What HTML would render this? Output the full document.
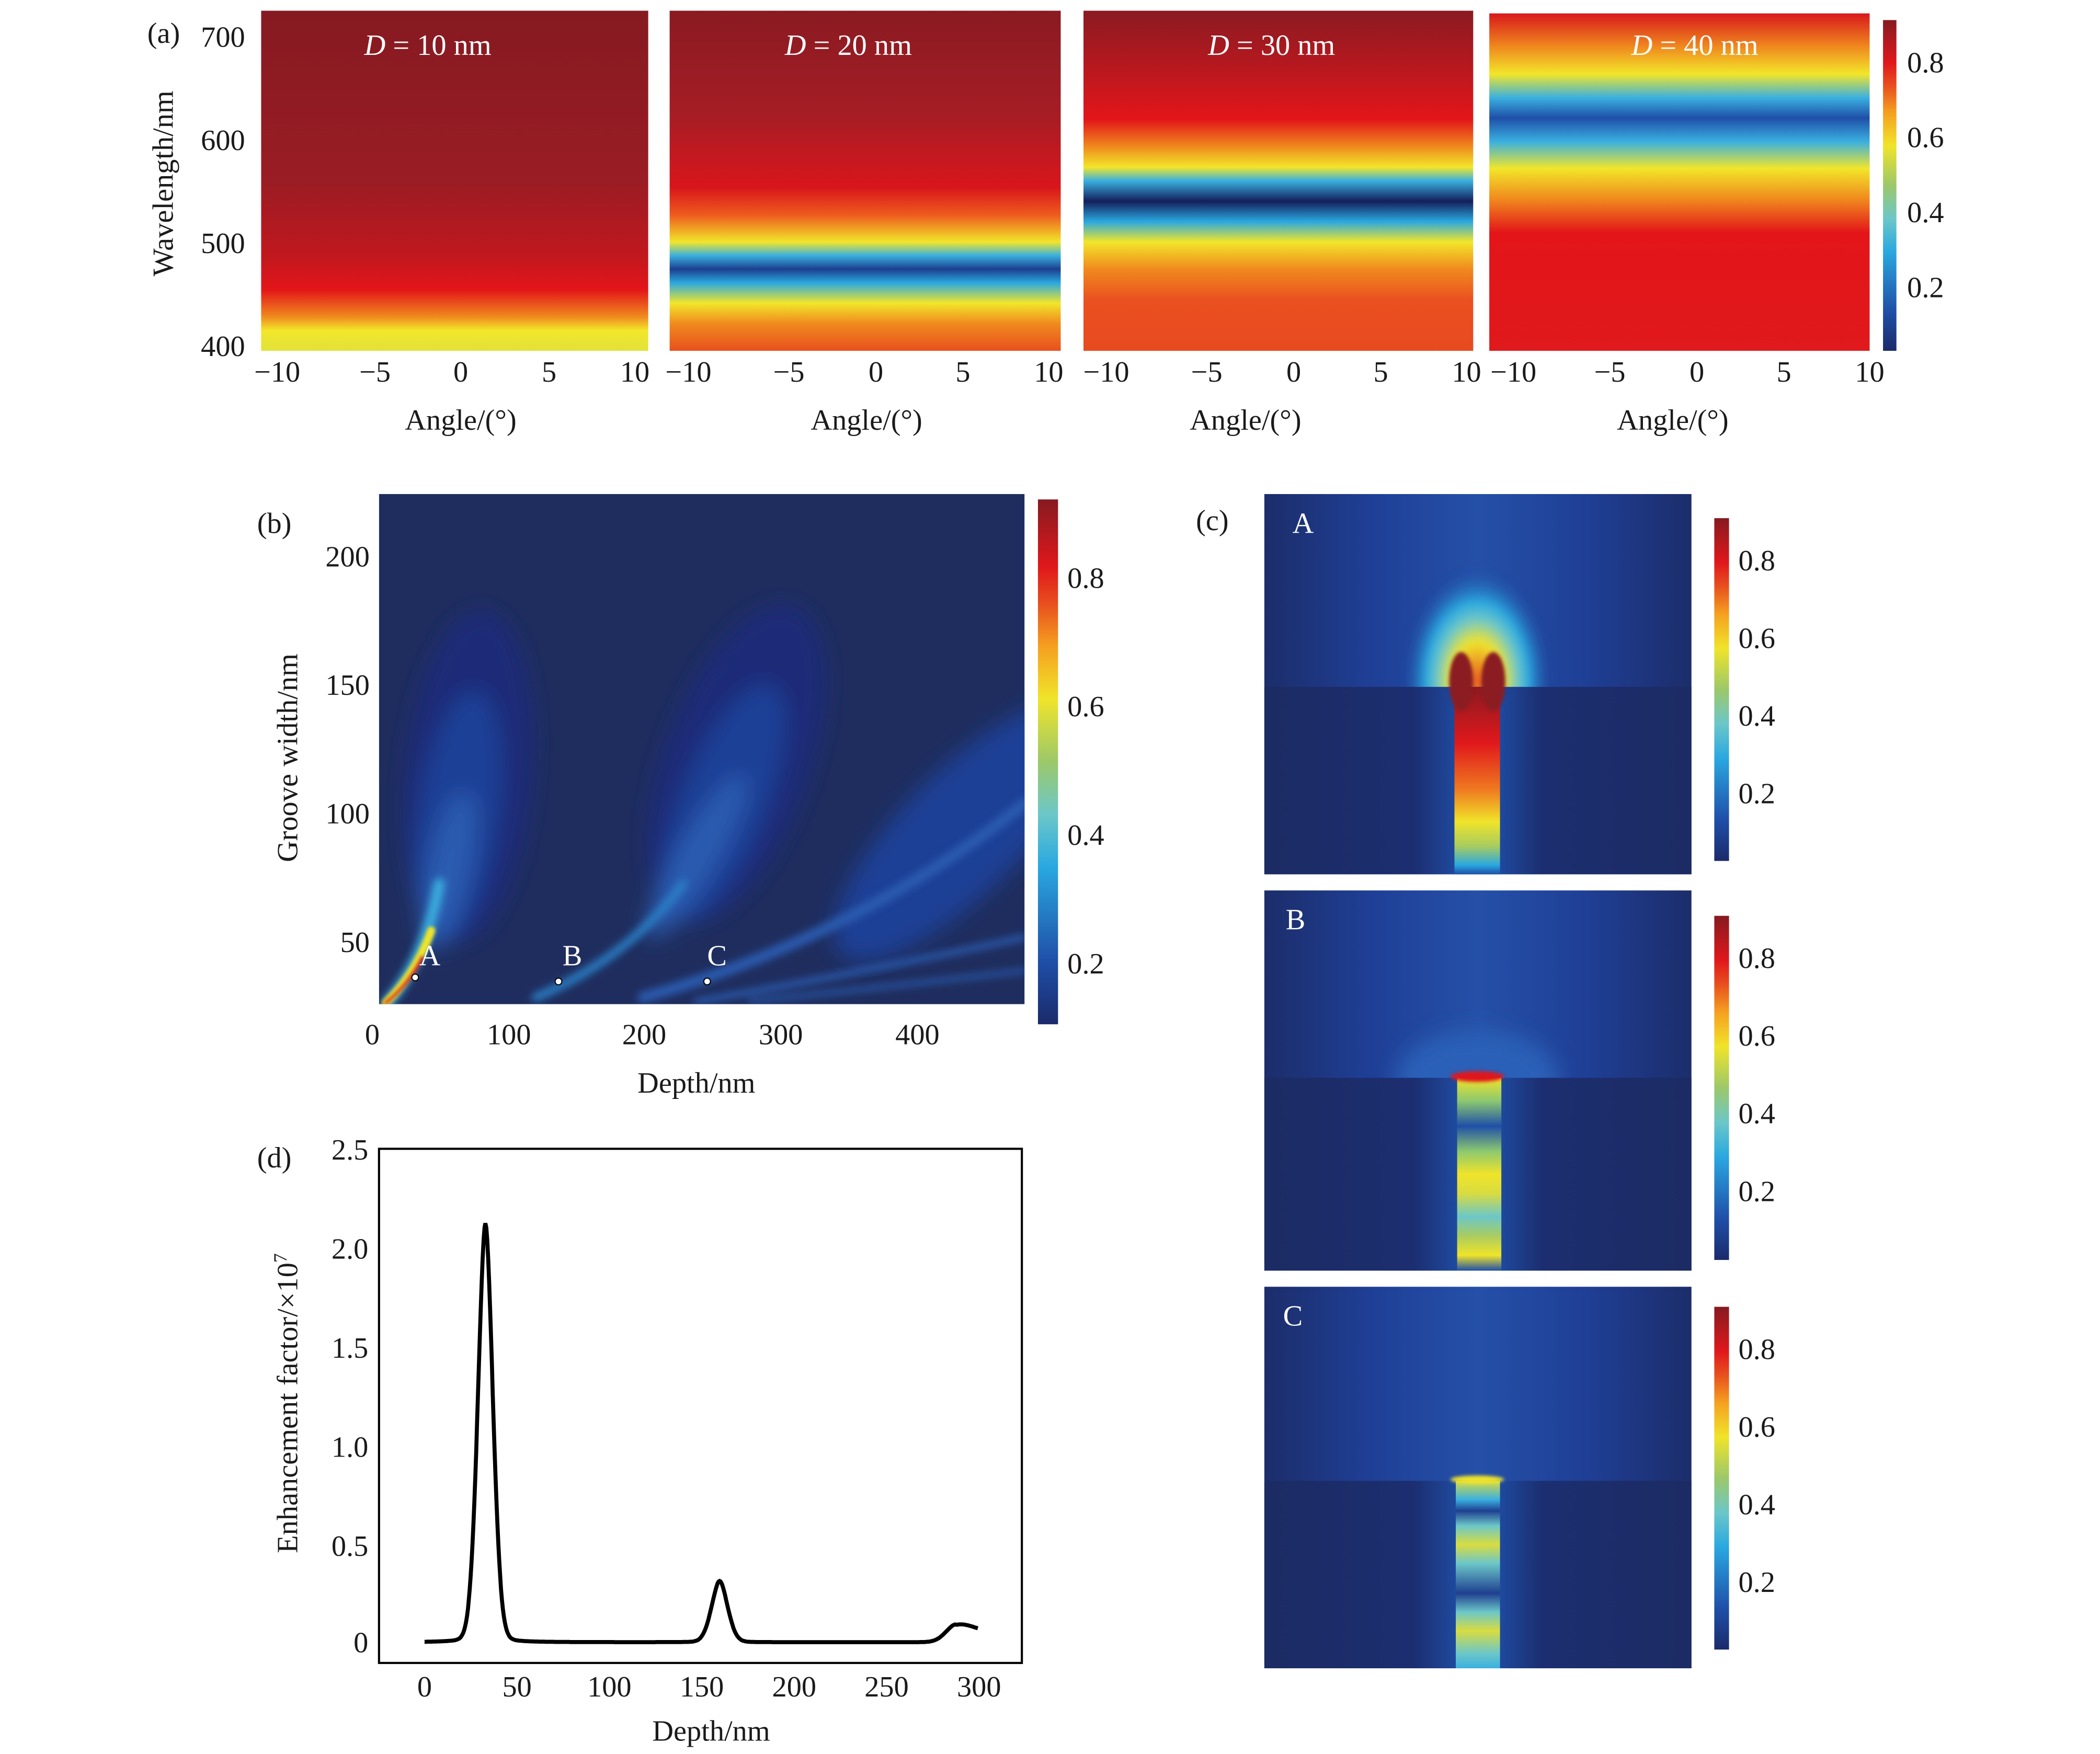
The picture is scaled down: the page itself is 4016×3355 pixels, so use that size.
<!DOCTYPE html>
<html><head><meta charset="utf-8"><style>html,body{margin:0;padding:0;background:#fff}svg{display:block}text{font-family:"Liberation Serif",serif;fill:#1a1a1a}</style></head>
<body>
<svg xmlns="http://www.w3.org/2000/svg" width="4016" height="3355" viewBox="0 0 1568 1310" preserveAspectRatio="none">
<defs>
<linearGradient id="jet" x1="0" y1="1" x2="0" y2="0">
<stop offset="0" stop-color="#1b2a6b"/><stop offset="0.12" stop-color="#1f4fa8"/><stop offset="0.3" stop-color="#2aa8e0"/><stop offset="0.4" stop-color="#6cc7c8"/><stop offset="0.5" stop-color="#9cc86a"/><stop offset="0.62" stop-color="#f0e42a"/><stop offset="0.72" stop-color="#f5a020"/><stop offset="0.8" stop-color="#e8501e"/><stop offset="0.87" stop-color="#e0181c"/><stop offset="1" stop-color="#861a20"/>
</linearGradient>
<linearGradient id="p1" x1="0" y1="0" x2="0" y2="1">
<stop offset="0" stop-color="#861a21"/><stop offset="0.5" stop-color="#9a1c24"/><stop offset="0.72" stop-color="#c0181e"/><stop offset="0.82" stop-color="#e31519"/><stop offset="0.9" stop-color="#f08a1e"/><stop offset="0.94" stop-color="#f2e62a"/><stop offset="1" stop-color="#e2e23a"/>
</linearGradient>
<linearGradient id="p2" x1="0" y1="0" x2="0" y2="1">
<stop offset="0" stop-color="#8a1a21"/><stop offset="0.3" stop-color="#a51d25"/><stop offset="0.52" stop-color="#d8161b"/><stop offset="0.6" stop-color="#ee5a1e"/><stop offset="0.68" stop-color="#f2e62a"/><stop offset="0.72" stop-color="#3ab0e0"/><stop offset="0.76" stop-color="#1c3f8e"/><stop offset="0.8" stop-color="#2aa8e0"/><stop offset="0.86" stop-color="#f2e62a"/><stop offset="0.92" stop-color="#f08a1e"/><stop offset="1" stop-color="#e8501e"/>
</linearGradient>
<linearGradient id="p3" x1="0" y1="0" x2="0" y2="1">
<stop offset="0" stop-color="#8a1a21"/><stop offset="0.2" stop-color="#c0181e"/><stop offset="0.32" stop-color="#e31519"/><stop offset="0.4" stop-color="#f08a1e"/><stop offset="0.46" stop-color="#f2e62a"/><stop offset="0.5" stop-color="#3ab0e0"/><stop offset="0.56" stop-color="#141f5a"/><stop offset="0.62" stop-color="#2aa8e0"/><stop offset="0.68" stop-color="#f2e62a"/><stop offset="0.76" stop-color="#f08a1e"/><stop offset="0.85" stop-color="#ea5020"/><stop offset="1" stop-color="#e84a20"/>
</linearGradient>
<linearGradient id="p4" x1="0" y1="0" x2="0" y2="1">
<stop offset="0" stop-color="#d8181c"/><stop offset="0.1" stop-color="#f08a1e"/><stop offset="0.18" stop-color="#f2e62a"/><stop offset="0.25" stop-color="#3ab0e0"/><stop offset="0.31" stop-color="#1f4fa8"/><stop offset="0.38" stop-color="#3ab0e0"/><stop offset="0.46" stop-color="#f2e62a"/><stop offset="0.55" stop-color="#f08a1e"/><stop offset="0.65" stop-color="#e31519"/><stop offset="1" stop-color="#e0191c"/>
</linearGradient>
<filter id="bl" x="-50%" y="-50%" width="200%" height="200%"><feGaussianBlur stdDeviation="8"/></filter>
<filter id="bl2" x="-50%" y="-50%" width="200%" height="200%"><feGaussianBlur stdDeviation="3"/></filter>
<filter id="bl1" x="-50%" y="-50%" width="200%" height="200%"><feGaussianBlur stdDeviation="1.2"/></filter>
<radialGradient id="glowA" cx="0.5" cy="0.5" r="0.5">
<stop offset="0" stop-color="#e8501e"/><stop offset="0.35" stop-color="#f0e42a"/><stop offset="0.55" stop-color="#6cc7c8"/><stop offset="0.7" stop-color="#2aa8e0"/><stop offset="1" stop-color="#1f4fa8" stop-opacity="0"/>
</radialGradient>
<linearGradient id="grA" x1="0" y1="0" x2="0" y2="1">
<stop offset="0" stop-color="#8a1a20"/><stop offset="0.3" stop-color="#e0181c"/><stop offset="0.55" stop-color="#ef7a20"/><stop offset="0.72" stop-color="#f0e42a"/><stop offset="0.85" stop-color="#a8cc60"/><stop offset="0.95" stop-color="#2aa8e0"/><stop offset="1" stop-color="#1f4fa8"/>
</linearGradient>
<linearGradient id="grB" x1="0" y1="0" x2="0" y2="1">
<stop offset="0" stop-color="#f0e42a"/><stop offset="0.12" stop-color="#8cc870"/><stop offset="0.25" stop-color="#1f4fa8"/><stop offset="0.38" stop-color="#8cc870"/><stop offset="0.5" stop-color="#f0e42a"/><stop offset="0.6" stop-color="#d8dc40"/><stop offset="0.72" stop-color="#6cc7c8"/><stop offset="0.82" stop-color="#aacc60"/><stop offset="0.92" stop-color="#f0e42a"/><stop offset="1" stop-color="#1f4fa8"/>
</linearGradient>
<linearGradient id="grC" x1="0" y1="0" x2="0" y2="1">
<stop offset="0" stop-color="#d8dc40"/><stop offset="0.1" stop-color="#3ab0e0"/><stop offset="0.16" stop-color="#1f3f90"/><stop offset="0.24" stop-color="#6cc7c8"/><stop offset="0.34" stop-color="#d8dc40"/><stop offset="0.44" stop-color="#6cc7c8"/><stop offset="0.6" stop-color="#1f3f90"/><stop offset="0.7" stop-color="#6cc7c8"/><stop offset="0.8" stop-color="#d8dc40"/><stop offset="0.92" stop-color="#6cc7c8"/><stop offset="1" stop-color="#3ab0e0"/>
</linearGradient>
<linearGradient id="side" x1="0" y1="0" x2="1" y2="0">
<stop offset="0" stop-color="#1c2b63"/><stop offset="0.35" stop-color="#1c2e70"/><stop offset="0.47" stop-color="#1f4fa8"/><stop offset="0.53" stop-color="#1f4fa8"/><stop offset="0.65" stop-color="#1c2e70"/><stop offset="1" stop-color="#1c2b63"/>
</linearGradient>
<linearGradient id="topbg" x1="0" y1="0" x2="1" y2="0">
<stop offset="0" stop-color="#1c2d6a"/><stop offset="0.25" stop-color="#1f3f96"/><stop offset="0.5" stop-color="#2550a8"/><stop offset="0.75" stop-color="#1f3f96"/><stop offset="1" stop-color="#1c2d6a"/>
</linearGradient>
</defs>

<!-- (a) -->
<rect x="195" y="8" width="289" height="254" fill="url(#p1)"/>
<rect x="500" y="8" width="292" height="254" fill="url(#p2)"/>
<rect x="809" y="8" width="291" height="254" fill="url(#p3)"/>
<rect x="1112" y="10" width="284" height="252" fill="url(#p4)"/>
<rect x="1406" y="15" width="10" height="247" fill="url(#jet)"/>
<g font-size="22">
<text x="272" y="41" style="fill:#fff"><tspan font-style="italic">D</tspan> = 10 nm</text>
<text x="586" y="41" style="fill:#fff"><tspan font-style="italic">D</tspan> = 20 nm</text>
<text x="902" y="41" style="fill:#fff"><tspan font-style="italic">D</tspan> = 30 nm</text>
<text x="1218" y="41" style="fill:#fff"><tspan font-style="italic">D</tspan> = 40 nm</text>
</g>
<g font-size="22">
<text x="110" y="32">(a)</text>
<text x="150" y="35">700</text><text x="150" y="112">600</text><text x="150" y="189">500</text><text x="150" y="266">400</text>
<text x="137" y="145" transform="rotate(-90 129 145)" text-anchor="middle">Wavelength/nm</text>
<g text-anchor="middle">
<text x="207" y="285">−10</text><text x="280" y="285">−5</text><text x="344" y="285">0</text><text x="410" y="285">5</text><text x="474" y="285">10</text>
<text x="514" y="285">−10</text><text x="589" y="285">−5</text><text x="654" y="285">0</text><text x="719" y="285">5</text><text x="783" y="285">10</text>
<text x="826" y="285">−10</text><text x="901" y="285">−5</text><text x="966" y="285">0</text><text x="1031" y="285">5</text><text x="1095" y="285">10</text>
<text x="1130" y="285">−10</text><text x="1202" y="285">−5</text><text x="1267" y="285">0</text><text x="1332" y="285">5</text><text x="1396" y="285">10</text>
<text x="344" y="321">Angle/(°)</text><text x="647" y="321">Angle/(°)</text><text x="930" y="321">Angle/(°)</text><text x="1249" y="321">Angle/(°)</text>
</g>
<text x="1424" y="54">0.8</text><text x="1424" y="110">0.6</text><text x="1424" y="166">0.4</text><text x="1424" y="222">0.2</text>
</g>

<!-- (b) -->
<svg x="283" y="369" width="482" height="381" viewBox="283 369 482 381">
<rect x="283" y="369" width="482" height="381" fill="#1f2d5e"/>
<g filter="url(#bl)">
<ellipse cx="350" cy="580" rx="48" ry="125" fill="#1c2a78" transform="rotate(5 350 580)"/>
<ellipse cx="342" cy="610" rx="30" ry="95" fill="#1f3f96" transform="rotate(8 342 610)"/>
<ellipse cx="335" cy="650" rx="16" ry="60" fill="#2a5cb0" transform="rotate(12 335 650)"/>
<ellipse cx="550" cy="570" rx="55" ry="125" fill="#1c2a78" transform="rotate(20 550 570)"/>
<ellipse cx="540" cy="600" rx="32" ry="95" fill="#1f3f96" transform="rotate(22 540 600)"/>
<ellipse cx="520" cy="640" rx="15" ry="70" fill="#2a5cb0" transform="rotate(30 520 640)"/>
<ellipse cx="720" cy="620" rx="45" ry="130" fill="#1f3f96" transform="rotate(45 720 620)"/>
</g>
<g filter="url(#bl2)" fill="none" stroke-linecap="round">
<path d="M290 748 Q318 715 328 660" stroke="#3ab0e0" stroke-width="8"/>
<path d="M400 745 Q470 715 510 660" stroke="#2a80c8" stroke-width="6"/>
<path d="M480 745 Q640 700 765 600" stroke="#2a5cb0" stroke-width="8"/>
<path d="M520 748 Q650 725 765 700" stroke="#2a60b8" stroke-width="4"/>
<path d="M560 748 Q680 735 765 725" stroke="#2a60b8" stroke-width="3"/>
</g>
<g filter="url(#bl1)" fill="none" stroke-linecap="round">
<path d="M288 749 Q310 728 322 695" stroke="#f0e42a" stroke-width="6"/>
<path d="M288 749 Q305 735 315 715" stroke="#e0181c" stroke-width="3"/>
</g>
</svg>
<rect x="775" y="373" width="15" height="392" fill="url(#jet)"/>
<circle cx="310" cy="730" r="2.5" fill="#fff" stroke="#000" stroke-width="0.8"/>
<circle cx="417" cy="733" r="2.5" fill="#fff" stroke="#000" stroke-width="0.8"/>
<circle cx="528" cy="733" r="2.5" fill="#fff" stroke="#000" stroke-width="0.8"/>
<g font-size="22">
<text x="313" y="721" style="fill:#fff">A</text><text x="420" y="721" style="fill:#fff">B</text><text x="528" y="721" style="fill:#fff">C</text>
<text x="192" y="398">(b)</text>
<g text-anchor="end"><text x="276" y="423">200</text><text x="276" y="519">150</text><text x="276" y="615">100</text><text x="276" y="711">50</text></g>
<g text-anchor="middle"><text x="278" y="780">0</text><text x="380" y="780">100</text><text x="481" y="780">200</text><text x="583" y="780">300</text><text x="685" y="780">400</text>
<text x="520" y="816">Depth/nm</text>
<text x="222" y="566" transform="rotate(-90 222 566)">Groove width/nm</text></g>
<text x="797" y="439">0.8</text><text x="797" y="535">0.6</text><text x="797" y="631">0.4</text><text x="797" y="727">0.2</text>
</g>

<!-- (c) -->
<g>
<svg x="944" y="369" width="319" height="284" viewBox="0 0 319 284">
<rect width="319" height="284" fill="url(#topbg)"/>
<ellipse cx="159" cy="140" rx="55" ry="85" fill="url(#glowA)" filter="url(#bl2)"/>
<rect x="0" y="144" width="319" height="140" fill="url(#side)"/>
<rect x="142" y="144" width="34" height="140" fill="url(#grA)"/>
<ellipse cx="147" cy="140" rx="9" ry="22" fill="#8a1a20" filter="url(#bl1)"/>
<ellipse cx="171" cy="140" rx="9" ry="22" fill="#8a1a20" filter="url(#bl1)"/>
</svg>
<svg x="944" y="665" width="319" height="284" viewBox="0 0 319 284">
<rect width="319" height="284" fill="url(#topbg)"/>
<ellipse cx="159" cy="140" rx="60" ry="35" fill="#2a60b8" filter="url(#bl)"/>
<rect x="0" y="140" width="319" height="144" fill="url(#side)"/>
<rect x="144" y="140" width="33" height="144" fill="url(#grB)"/>
<ellipse cx="159" cy="139" rx="20" ry="4" fill="#e0181c" filter="url(#bl1)"/>
</svg>
<svg x="944" y="961" width="319" height="285" viewBox="0 0 319 285">
<rect width="319" height="285" fill="url(#topbg)"/>
<rect x="0" y="145" width="319" height="140" fill="url(#side)"/>
<rect x="143" y="145" width="33" height="140" fill="url(#grC)"/>
<ellipse cx="159" cy="144" rx="20" ry="3" fill="#f0e42a" filter="url(#bl1)"/>
</svg>
<rect x="1280" y="387" width="11" height="256" fill="url(#jet)"/>
<rect x="1280" y="684" width="11" height="257" fill="url(#jet)"/>
<rect x="1280" y="976" width="11" height="256" fill="url(#jet)"/>
<g font-size="22">
<text x="893" y="396">(c)</text>
<text x="965" y="398" style="fill:#fff">A</text><text x="960" y="694" style="fill:#fff">B</text><text x="958" y="990" style="fill:#fff">C</text>
<text x="1298" y="426">0.8</text><text x="1298" y="484">0.6</text><text x="1298" y="542">0.4</text><text x="1298" y="600">0.2</text>
<text x="1298" y="723">0.8</text><text x="1298" y="781">0.6</text><text x="1298" y="839">0.4</text><text x="1298" y="897">0.2</text>
<text x="1298" y="1015">0.8</text><text x="1298" y="1073">0.6</text><text x="1298" y="1131">0.4</text><text x="1298" y="1189">0.2</text>
</g>
</g>

<!-- (d) -->
<rect x="283" y="858" width="480" height="384" fill="none" stroke="#000" stroke-width="1.6"/>
<g id="dt" stroke="#000" stroke-width="1.2"></g>
<path id="curve" fill="none" stroke="#000" stroke-width="3"/>
<g font-size="22">
<text x="192" y="872">(d)</text>
<g text-anchor="end"><text x="275" y="866">2.5</text><text x="275" y="940">2.0</text><text x="275" y="1014">1.5</text><text x="275" y="1088">1.0</text><text x="275" y="1162">0.5</text><text x="275" y="1234">0</text></g>
<g text-anchor="middle"><text x="317" y="1267">0</text><text x="386" y="1267">50</text><text x="455" y="1267">100</text><text x="524" y="1267">150</text><text x="593" y="1267">200</text><text x="662" y="1267">250</text><text x="731" y="1267">300</text>
<text x="531" y="1300">Depth/nm</text>
<text x="222" y="1048" transform="rotate(-90 222 1048)" text-anchor="middle">Enhancement factor/×10<tspan dy="-8" font-size="14">7</tspan></text></g>
</g>
<script>
var X=function(d){return 317+d*1.377},Y=function(v){return 1227-v*147.6};
function pk(d,c,a,s){var z=(d-c)/s;return a*(0.85*Math.exp(-z*z/2)+0.15/(1+z*z*2));}
var p='';for(var d=0;d<=300;d+=0.5){var v=pk(d,33,2.12,4.2)+pk(d,160,0.31,4.5)+pk(d,288,0.09,5.5)+0.003;if(d>288)v=0.09*Math.exp(-Math.pow((d-288)/10,2)/2)+0.03*(d-288)/12;p+=(d?'L':'M')+X(d).toFixed(1)+' '+Y(v).toFixed(1);}
document.getElementById('curve').setAttribute('d',p);
var g=document.getElementById('dt'),s='';
for(var d=-25;d<=325;d+=25){var x=X(d);var L=(d%50==0)?7:4;s+='<line x1="'+x+'" y1="1242" x2="'+x+'" y2="'+(1242-L)+'"/><line x1="'+x+'" y1="858" x2="'+x+'" y2="'+(858+L)+'"/>';}
for(var v=0;v<=2.5;v+=0.25){var y=Y(v);var L=(Math.round(v*4)%2==0)?7:4;s+='<line x1="283" y1="'+y+'" x2="'+(283+L)+'" y2="'+y+'"/><line x1="763" y1="'+y+'" x2="'+(763-L)+'" y2="'+y+'"/>';}
g.innerHTML=s;
</script>
</svg>
</body></html>
